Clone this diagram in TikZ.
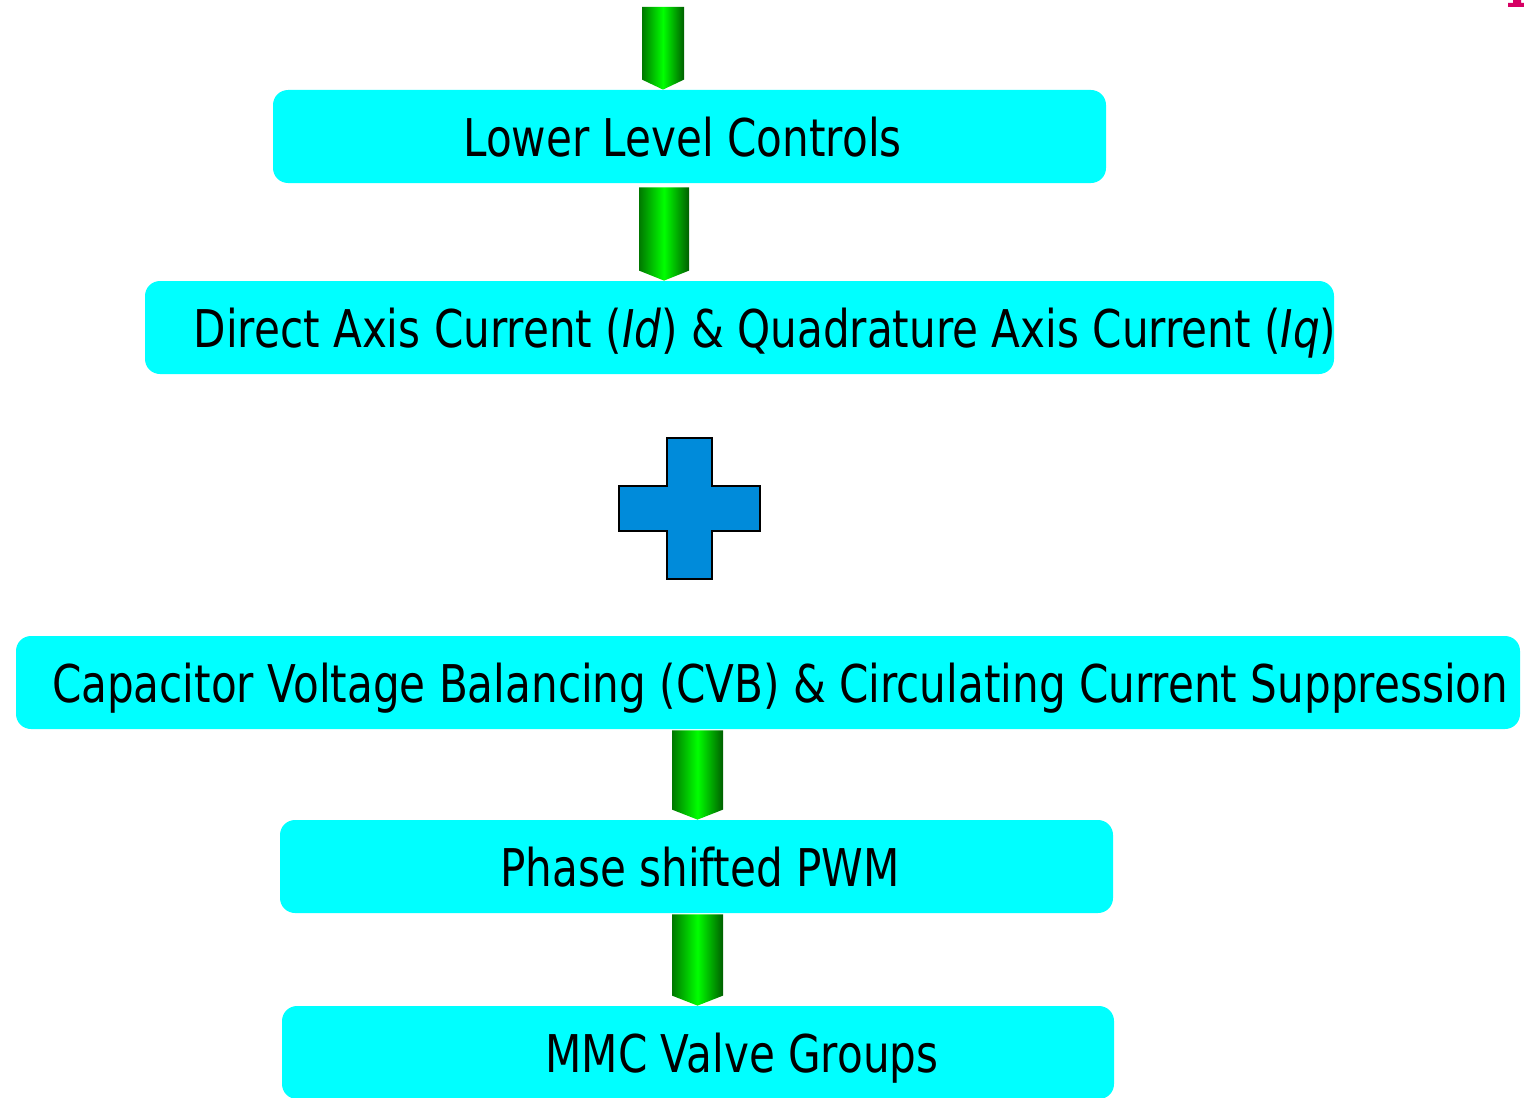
\documentclass[tikz,border=0pt]{standalone}
\usepackage{fontspec}
\setmainfont{DejaVu Sans}[FakeStretch=0.81]
\usepackage{xcolor}
\definecolor{boxcyan}{RGB}{0,255,255}
\definecolor{flowdark}{RGB}{0,120,0}
\definecolor{flowlight}{RGB}{0,255,0}
\definecolor{flowdeep}{RGB}{0,95,0}
\definecolor{plusblue}{RGB}{0,139,218}
\definecolor{marker}{RGB}{214,0,100}
\usepackage{tikz}
\usetikzlibrary{calc}

% shaded block arrow from one box down to the next
\newcommand{\flowarrow}[4]{% #1 x, #2 from, #3 to, #4 half width
  \coordinate (fa) at (#1,0);
  \shade[flow] ($(fa |- #2)+(-#4,0)$) -- ($(fa |- #2)+(#4,0)$)
    -- ($(fa |- #3)+(#4,-10)$) -- (fa |- #3) -- ($(fa |- #3)+(-#4,-10)$) -- cycle;}

\begin{document}
\begin{tikzpicture}[x=0.5pt,y=-0.5pt,
box/.style={fill=boxcyan,rounded corners=7.5pt,minimum height=46.5pt,inner sep=0pt},
lbl/.style={font=\fontsize{26}{30}\selectfont,anchor=base,inner sep=0pt},
flow/.style={left color=flowdark,right color=flowdeep,middle color=flowlight}]
\useasboundingbox (0,0) rectangle (1524,1097);
% boxes
\node[box,minimum width=416.5pt] (llc) at (689.5,136.5) {};
\node[box,minimum width=594.5pt] (dq) at (739.5,327.5) {};
\node[box,minimum width=752pt] (cvb) at (768,682.5) {};
\node[box,minimum width=416.5pt] (pwm) at (696.5,866.5) {};
\node[box,minimum width=416pt] (mmc) at (698,1052.5) {};
% texts
\node[lbl] (llctext) at (682.5,156) {Lower Level Controls};
\node[lbl] (dqtext) at (765,347) {Direct Axis Current (\textit{Id}) \& Quadrature Axis Current (\textit{Iq})};
\node[lbl] (cvbtext) at (780,702) {Capacitor Voltage Balancing (CVB) \& Circulating Current Suppression};
\node[lbl] (pwmtext) at (700,886) {Phase shifted PWM};
\node[lbl] (mmctext) at (742,1072) {MMC Valve Groups};
% arrows
\coordinate (top) at (663,7);
\coordinate (llcout) at ($(llc.south)+(0,4)$);
\coordinate (cvbout) at ($(cvb.south)+(0,1)$);
\coordinate (pwmout) at ($(pwm.south)+(0,1)$);
\flowarrow{663}{top}{llc.north}{21}
\flowarrow{664}{llcout}{dq.north}{25}
\flowarrow{697.5}{cvbout}{pwm.north}{25.5}
\flowarrow{697.5}{pwmout}{mmc.north}{25.5}
% plus sign
\draw[fill=plusblue,line width=1pt] (667,438) -- (712,438) -- (712,486) -- (760,486) -- (760,531)
  -- (712,531) -- (712,579) -- (667,579) -- (667,531) -- (619,531) -- (619,486) -- (667,486) -- cycle;
% cut-off mark in the corner
\fill[marker] (1513,0) -- (1521,0) -- (1521,3) -- (1524,3) -- (1524,7) -- (1508,7) -- (1508,3) -- (1513,3) -- cycle;
\end{tikzpicture}
\end{document}
